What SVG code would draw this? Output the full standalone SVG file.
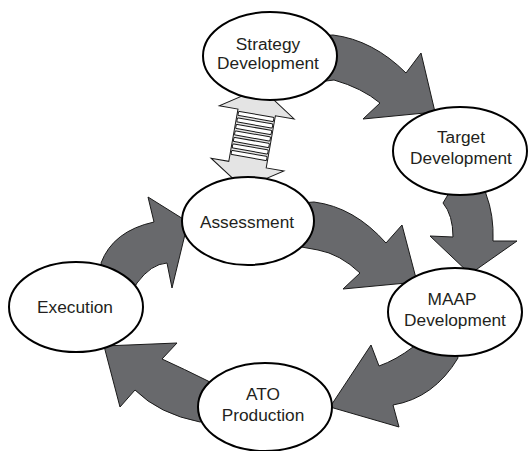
<svg xmlns="http://www.w3.org/2000/svg" width="528" height="451" viewBox="0 0 528 451">
<style>
.arrow{fill:#68696c;stroke:#1a1a1a;stroke-width:1;stroke-linejoin:miter}
.node{fill:#ffffff;stroke:#000;stroke-width:2}
.lbl{font-family:"Liberation Sans",Arial,sans-serif;font-size:17.3px;fill:#231f20;text-anchor:middle}
.dbl{fill:#e4e4e4;stroke:#1a1a1a;stroke-width:1}
.bar{fill:#ffffff;stroke:#1a1a1a;stroke-width:1}
</style>
<rect width="528" height="451" fill="#ffffff"/>
<g id="connectors">
  <path class="arrow" d="M318,36 L333,35 Q373,40 406,73 L421,53 L435,112 L363,119 L380,103 Q362,88 334,80 L318,82 Z"/>
  <path class="arrow" d="M452,188 L443,203 Q453,215 453,237 L430,236 L470,274 L517,241 L493,241 Q494,215 486,194 L484,186 Z"/>
  <path class="arrow" d="M300,203 L314,202 Q354,207 386,243 L402,225 L417,282 L343,289 L360,273 Q340,254 318,250 L296,246 Z"/>
  <path class="arrow" d="M410,340 L413,347 Q396,360 379,366 L371,345 L330,407 L399,427 L393,405 Q434,398 458,358 L455,345 Z"/>
  <path class="arrow" d="M215,385 L208,381 Q184,369 162,359 L177,343 L104,346 L120,407 L135,390 Q159,414 200,422 L212,420 Z"/>
  <path class="arrow" d="M104,272 L101,263 Q113,231 154,222 L148,197 L188,222 L172,288 L167,263 Q151,264 137,283 L130,295 Z"/>
  <g id="double-arrow" transform="translate(252,139) rotate(10)">
    <path class="dbl" d="M0,-52 L38,-27 L19,-27 L19,26 L37,26 L0,50 L-37,26 L-19,26 L-19,-27 L-38,-27 Z"/>
    <rect class="bar" x="-18" y="-25" width="36" height="4.2" rx="1"/>
    <rect class="bar" x="-18" y="-18.4" width="36" height="4.2" rx="1"/>
    <rect class="bar" x="-18" y="-11.8" width="36" height="4.2" rx="1"/>
    <rect class="bar" x="-18" y="-5.2" width="36" height="4.2" rx="1"/>
    <rect class="bar" x="-18" y="1.4" width="36" height="4.2" rx="1"/>
    <rect class="bar" x="-18" y="8" width="36" height="4.2" rx="1"/>
    <rect class="bar" x="-18" y="14.6" width="36" height="4.2" rx="1"/>
  </g>
</g>
<g id="strategy">
  <ellipse class="node" cx="270" cy="56" rx="67" ry="44"/>
  <text class="lbl" x="268" y="50">Strategy</text>
  <text class="lbl" x="268" y="69">Development</text>
</g>
<g id="target">
  <ellipse class="node" cx="460" cy="151" rx="67" ry="44"/>
  <text class="lbl" x="461" y="143">Target</text>
  <text class="lbl" x="461" y="164">Development</text>
</g>
<g id="assessment">
  <ellipse class="node" cx="248" cy="221" rx="66" ry="44"/>
  <text class="lbl" x="247" y="228">Assessment</text>
</g>
<g id="execution">
  <ellipse class="node" cx="76" cy="307" rx="67" ry="45"/>
  <text class="lbl" x="75" y="313">Execution</text>
</g>
<g id="maap">
  <ellipse class="node" cx="455" cy="312" rx="67" ry="44"/>
  <text class="lbl" x="452" y="305">MAAP</text>
  <text class="lbl" x="455" y="326">Development</text>
</g>
<g id="ato">
  <ellipse class="node" cx="265" cy="407" rx="67" ry="44"/>
  <text class="lbl" x="263" y="400">ATO</text>
  <text class="lbl" x="263" y="421">Production</text>
</g>
</svg>
